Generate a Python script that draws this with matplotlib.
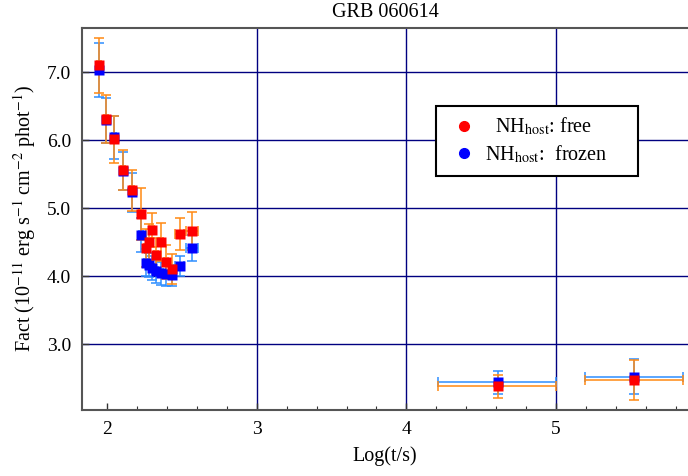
import matplotlib
matplotlib.use("Agg")
import matplotlib.pyplot as plt
from matplotlib.lines import Line2D
import numpy as np

plt.rcParams['font.family'] = ['Liberation Serif', 'DejaVu Serif']
plt.rcParams['mathtext.fontset'] = 'stix'

# data: log time, flux factor (free / frozen NH_host)
log_t = [1.947, 1.993, 2.047, 2.107, 2.167, 2.227, 2.262, 2.280, 2.300, 2.327,
         2.360, 2.393, 2.433, 2.487, 2.567, 4.61, 5.52]
xerr_lo = [0.015, 0.015, 0.015, 0.015, 0.015, 0.015, 0.015, 0.015, 0.015, 0.015,
           0.015, 0.015, 0.02, 0.03, 0.04, 0.40, 0.33]
xerr_hi = [0.015, 0.015, 0.015, 0.015, 0.015, 0.015, 0.015, 0.015, 0.015, 0.015,
           0.015, 0.015, 0.02, 0.03, 0.04, 0.39, 0.33]
fact_free = [7.10, 6.31, 6.01, 5.56, 5.26, 4.91, 4.41, 4.50, 4.68, 4.31,
             4.50, 4.21, 4.10, 4.62, 4.66, 2.38, 2.47]
err_free = [0.40, 0.35, 0.34, 0.30, 0.30, 0.38, 0.28, 0.26, 0.25, 0.25,
            0.28, 0.25, 0.22, 0.24, 0.28, 0.17, 0.30]
fact_frozen = [7.03, 6.29, 6.04, 5.55, 5.23, 4.60, 4.20, 4.16, 4.12, 4.07,
               4.04, 4.03, 4.01, 4.15, 4.41, 2.44, 2.52]
err_frozen = [0.40, 0.33, 0.32, 0.28, 0.28, 0.25, 0.20, 0.18, 0.18, 0.17,
              0.17, 0.17, 0.16, 0.15, 0.19, 0.17, 0.26]

x_ticks = [2, 3, 4, 5]
y_ticks = [3.0, 4.0, 5.0, 6.0, 7.0]

fig = plt.figure(figsize=(6.88, 4.76), dpi=100)
ax = fig.add_axes([82/688, 66/476, 606/688, 382/476])
ax.set_xlim(1.833, 5.881)
ax.set_ylim(2.03, 7.65)

for v in x_ticks[1:]:
    ax.axvline(v, color='#000080', lw=1.0, zorder=1)
for v in y_ticks:
    ax.axhline(v, color='#000080', lw=1.0, zorder=1)

xerr = [xerr_lo, xerr_hi]
ax.errorbar(log_t, fact_frozen, yerr=err_frozen, xerr=xerr, fmt='none',
            ecolor='#2f8fff', elinewidth=1.3, capsize=3.5, capthick=1.3,
            alpha=0.85, zorder=2)
ax.errorbar(log_t, fact_free, yerr=err_free, xerr=xerr, fmt='none',
            ecolor='#ff8a14', elinewidth=1.3, capsize=3.5, capthick=1.3,
            alpha=0.85, zorder=3)
ax.plot(log_t, fact_frozen, 's', color='#0000ff', ms=6.5, mec='none', zorder=4)
ax.plot(log_t, fact_free, 's', color='#ff0000', ms=6.5, mec='none', zorder=5)

ax.set_xticks(x_ticks)
ax.set_xticklabels([str(v) for v in x_ticks])
ax.set_xticks(np.arange(2.0, 5.81, 0.2), minor=True)
ax.set_yticks(y_ticks)
ax.set_yticklabels([f"{v:.1f}" for v in y_ticks])
ax.tick_params(axis='both', which='major', direction='in', length=5,
               width=1, labelsize=14, color='#333333', pad=8)
ax.tick_params(axis='x', which='minor', direction='in', length=3,
               width=0.8, color='#333333')
ax.tick_params(axis='y', which='minor', left=False)
ax.tick_params(top=False, right=False)

for s in ['left', 'bottom', 'top']:
    ax.spines[s].set_color('#555555')
    ax.spines[s].set_linewidth(1.5)
ax.spines['right'].set_visible(False)

ax.set_title('GRB 060614', fontsize=14.5, pad=8)
ax.set_xlabel('Log(t/s)', fontsize=14.5, labelpad=6)
ax.set_ylabel(r'Fact (10$^{-11}$ erg s$^{-1}$ cm$^{-2}$ phot$^{-1}$)',
              fontsize=14.5, labelpad=6)

handles = [Line2D([], [], marker='o', ls='none', color='#ff0000', ms=7),
           Line2D([], [], marker='o', ls='none', color='#0000ff', ms=7)]
labels = [r'  NH$_{\mathrm{host}}$: free', r'NH$_{\mathrm{host}}$:  frozen     ']
leg = ax.legend(handles, labels, loc='upper left', bbox_to_anchor=(0.584, 0.796),
                fontsize=14.5, frameon=True, fancybox=False, borderpad=0.5,
                handletextpad=0.15, handlelength=1.8, labelspacing=0.3,
                borderaxespad=0)
leg.get_frame().set_edgecolor('black')
leg.get_frame().set_linewidth(1.5)
leg.get_frame().set_facecolor('white')
leg.get_frame().set_alpha(1)
leg.set_zorder(10)

fig.savefig('out.png', dpi=100)
